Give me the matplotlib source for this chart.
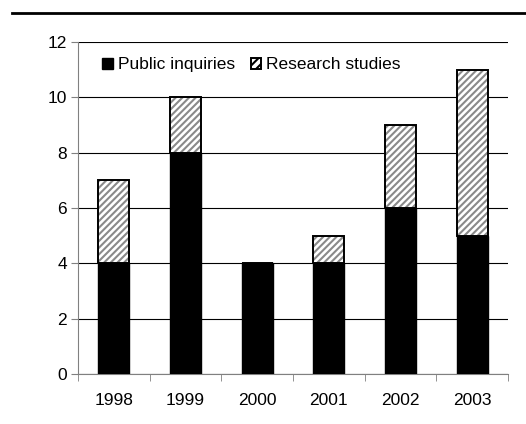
import matplotlib.pyplot as plt
from matplotlib.lines import Line2D
import numpy as np

plt.rcParams['font.family'] = ['Liberation Sans', 'DejaVu Sans']
plt.rcParams['hatch.linewidth'] = 1.5

years = ['1998', '1999', '2000', '2001', '2002', '2003']
public_inquiries = [4, 8, 4, 4, 6, 5]
research_studies = [3, 2, 0, 1, 3, 6]

fig = plt.figure(figsize=(5.26, 4.24), dpi=100)
ax = fig.add_axes([0.1483, 0.1179, 0.8175, 0.783])

x = np.arange(len(years))
ax.bar(x, public_inquiries, width=0.43, color='black', edgecolor='black',
       linewidth=1, label='Public inquiries', zorder=3)
# hatch in grey, then a black outline on top
ax.bar(x, research_studies, width=0.43, bottom=public_inquiries, color='white',
       edgecolor='#8a8a8a', hatch='/////', linewidth=0, zorder=3)
ax.bar(x, research_studies, width=0.43, bottom=public_inquiries, fill=False,
       edgecolor='black', linewidth=1.4, zorder=4)

ax.set_xlim(-0.5, len(years) - 0.5)
ax.set_ylim(0, 12)
ax.set_yticks(range(0, 13, 2))
ax.yaxis.grid(True, color='black', linewidth=0.8)
ax.set_axisbelow(True)

ax.set_xticks(x)
ax.set_xticklabels(years)
ax.tick_params(axis='x', length=0, pad=14, labelsize=12.5)
ax.set_xticks(np.arange(-0.5, len(years)), minor=True)
ax.tick_params(axis='x', which='minor', length=5, color='#808080', direction='out')
ax.tick_params(axis='y', length=5, color='#808080', labelsize=12.5, pad=3)

for s in ['top', 'right']:
    ax.spines[s].set_visible(False)
for s in ['left', 'bottom']:
    ax.spines[s].set_color('#808080')

legend_handles = [
    plt.Rectangle((0, 0), 1, 1, facecolor='black', edgecolor='black'),
    plt.Rectangle((0, 0), 1, 1, facecolor='white', edgecolor='black',
                  hatch='////', linewidth=1.4),
]
ax.legend(legend_handles, ['Public inquiries', 'Research studies'],
          loc='upper left', bbox_to_anchor=(0.04, 0.975), ncol=2, frameon=False,
          fontsize=12.5, handlelength=0.6, handleheight=0.6, handletextpad=0.3,
          columnspacing=0.9, borderaxespad=0)

fig.add_artist(Line2D([12 / 526, 1], [1 - 13 / 424, 1 - 13 / 424], color='black',
                      linewidth=2, transform=fig.transFigure))

fig.savefig('out.png', dpi=100)
